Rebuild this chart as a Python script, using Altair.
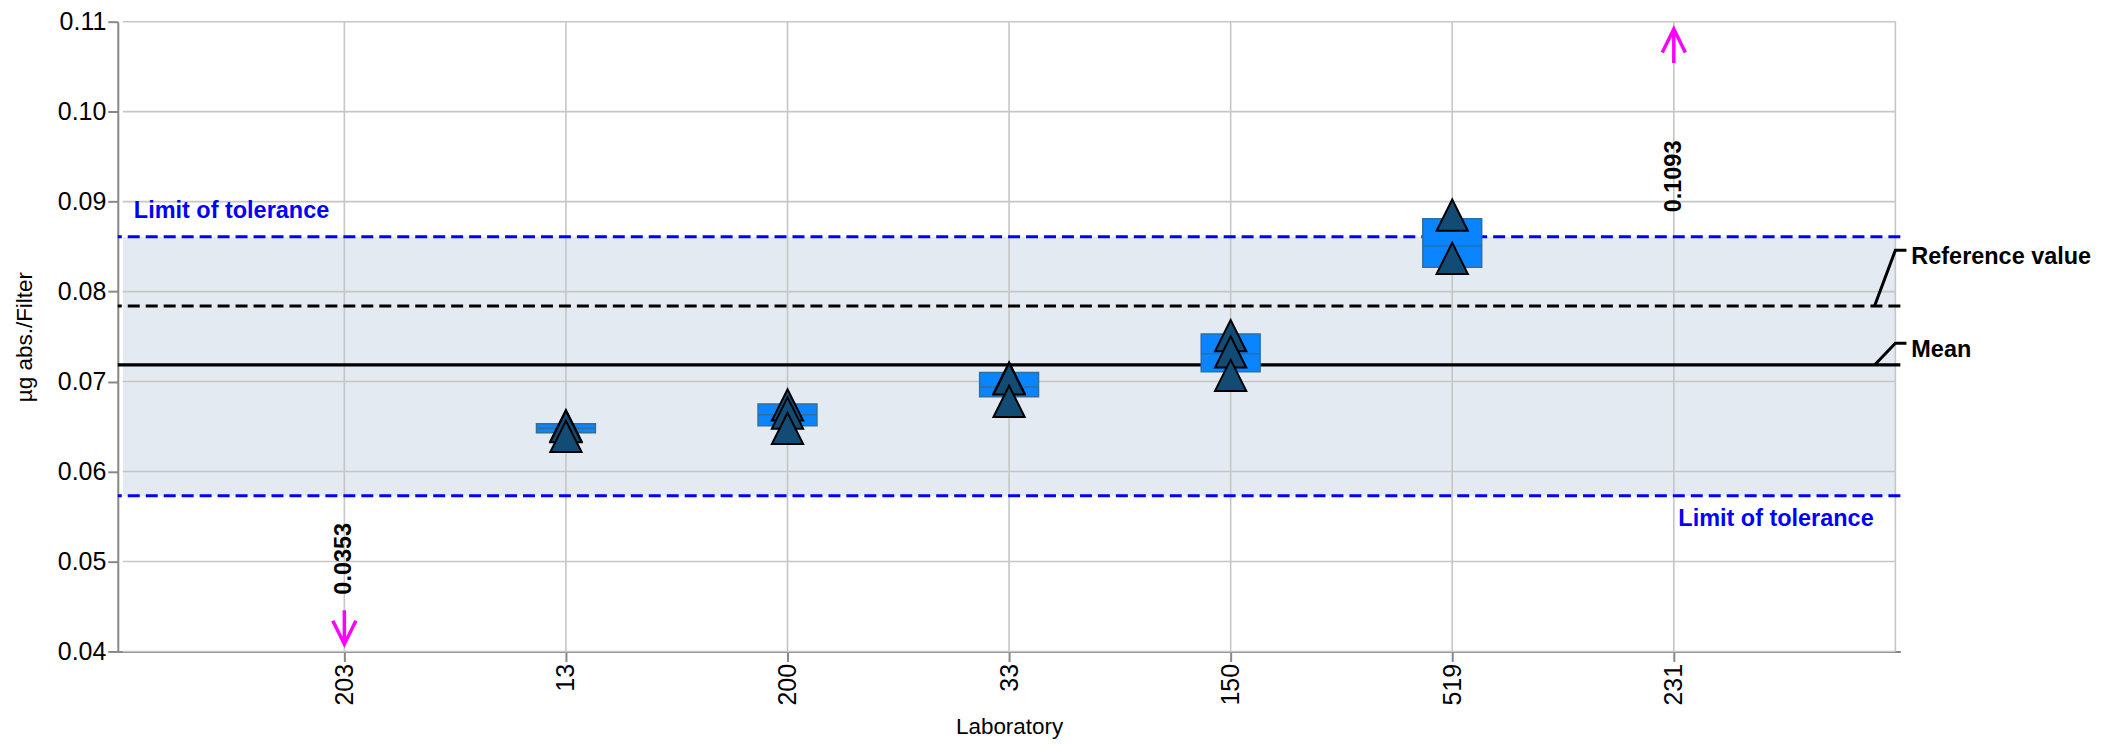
import altair as alt
import pandas as pd

# ---------------- data ----------------
labs = ["203", "13", "200", "33", "150", "519", "231"]

single_lab = ["13", "13", "13", "200", "200", "200", "33", "33", "33",
              "150", "150", "150", "519", "519"]
single_val = [0.0651, 0.0650, 0.0639, 0.0674, 0.0665, 0.0648,
              0.0704, 0.0703, 0.0678, 0.0751, 0.0733, 0.0707,
              0.0885, 0.0837]

box_lab = ["13", "200", "33", "150", "519"]
box_low = [0.0643, 0.0651, 0.0683, 0.0711, 0.0827]
box_high = [0.0653, 0.0675, 0.0710, 0.0753, 0.0881]
box_mid = [0.0648, 0.0663, 0.0694, 0.0731, 0.0851]

out_lab = ["203", "231"]
out_val = [0.0353, 0.1093]

ref_value = 0.0784
mean_value = 0.07185
tol_low = 0.0573
tol_high = 0.0861

y_ticks = [0.04, 0.05, 0.06, 0.07, 0.08, 0.09, 0.10, 0.11]
y_min, y_max = 0.04, 0.11

# ---------------- helpers ----------------
pos = {lab: i + 1 for i, lab in enumerate(labs)}
x_max = len(labs) + 1
FONT = "Liberation Sans"
ANN = 23.5

XS = alt.Scale(domain=[0, x_max], nice=False, zero=False)
YS = alt.Scale(domain=[y_min, y_max], nice=False, zero=False)
lab_js = "[" + ",".join("'" + l + "'" for l in labs) + "]"
xaxis = alt.Axis(values=list(range(1, len(labs) + 1)),
                 labelExpr=lab_js + "[datum.value - 1]",
                 title="Laboratory", labelAngle=270, labelPadding=2,
                 titlePadding=10, labelFlush=False, labelOverlap=False)
yaxis = alt.Axis(values=y_ticks, format=".2f", title="µg abs./Filter",
                 labelPadding=2, titlePadding=21, labelFlush=False,
                 labelOverlap=False)


def X(f):
    return alt.X(f, type="quantitative", scale=XS, axis=xaxis)


def Y(f):
    return alt.Y(f, type="quantitative", scale=YS, axis=yaxis)


# ---------------- tables ----------------
band_df = pd.DataFrame({"x0": [0], "x1": [x_max], "lo": [tol_low], "hi": [tol_high]})
hgrid_df = pd.DataFrame({"y": y_ticks, "x0": 0, "x1": x_max})
vgrid_df = pd.DataFrame({"x": list(range(1, len(labs) + 1)) + [x_max]})
single_df = pd.DataFrame({"pos": [pos[l] for l in single_lab], "val": single_val})
box_df = pd.DataFrame({"pos": [pos[l] for l in box_lab], "lo": box_low,
                       "hi": box_high, "mid": box_mid})

arrow_off = 0.0027
out_df = pd.DataFrame({
    "pos": [pos[l] for l in out_lab],
    "val": out_val,
    "label": [f"{v:.4f}" for v in out_val],
})
out_df["dir"] = ["down" if v < y_min else "up" for v in out_val]
out_df["ay"] = [y_min + arrow_off if v < y_min else y_max - arrow_off for v in out_val]
label_y = {"down": 0.0503, "up": 0.0928}
out_df["ty"] = [label_y[d] for d in out_df["dir"]]

# leader lines for right-hand labels
elbow = {"Reference value": ref_value + 0.0062, "Mean": mean_value + 0.0024}
base = {"Reference value": ref_value, "Mean": mean_value}
lead_rows = []
for name in ["Reference value", "Mean"]:
    lead_rows += [
        {"g": name, "o": 0, "x": x_max - 0.094, "y": base[name]},
        {"g": name, "o": 1, "x": x_max, "y": elbow[name]},
        {"g": name, "o": 2, "x": x_max + 0.05, "y": elbow[name]},
    ]
lead_df = pd.DataFrame(lead_rows)
rlab_df = pd.DataFrame({"x": [x_max + 0.072] * 2, "y": [elbow["Reference value"], elbow["Mean"]],
                        "t": ["Reference value", "Mean"]})

tol_txt_df = pd.DataFrame({"x": [0.05], "y": [tol_high], "t": ["Limit of tolerance"]})
tol_txt_df2 = pd.DataFrame({"x": [x_max - 0.098], "y": [tol_low], "t": ["Limit of tolerance"]})

# ---------------- layers ----------------
band = alt.Chart(band_df).mark_rect(color="#e4eaf1").encode(
    x=X("x0"), x2="x1", y=Y("lo"), y2="hi")
hgrid = alt.Chart(hgrid_df).mark_rule(color="#c6c6c6", strokeWidth=1.6).encode(
    x=X("x0"), x2="x1", y=Y("y"))
vgrid = alt.Chart(vgrid_df).mark_rule(color="#c6c6c6", strokeWidth=1.6).encode(x=X("x"))

tol_lines = alt.Chart(pd.DataFrame({"y": [tol_low, tol_high]})).mark_rule(
    color="#0000ff", strokeWidth=3, strokeDash=[12, 6]).encode(y=Y("y"))
ref_line = alt.Chart(pd.DataFrame({"y": [ref_value]})).mark_rule(
    color="black", strokeWidth=3, strokeDash=[12, 6]).encode(y=Y("y"))
mean_line = alt.Chart(pd.DataFrame({"y": [mean_value]})).mark_rule(
    color="black", strokeWidth=3.2).encode(y=Y("y"))

boxes = alt.Chart(box_df).mark_bar(width=59, color="#0a84ff", stroke="#2e6f9e",
                                   strokeWidth=1.5, opacity=1).encode(
    x=X("pos"), y=Y("lo"), y2="hi")
medians = alt.Chart(box_df).mark_tick(orient="horizontal", size=59, thickness=1.5,
                                      color="#2e6f9e", opacity=1).encode(
    x=X("pos"), y=Y("mid"))

TRI = "M0,-1L-1,1L1,1Z"
tris = alt.Chart(single_df).mark_point(shape=TRI, size=980, filled=True, fill="#124c75",
                                       fillOpacity=1, stroke="black", strokeWidth=2,
                                       opacity=1).encode(x=X("pos"), y=Y("val"))

UP = "M0,1L0,-1M-0.68,0.38L0,-1L0.68,0.38"
DOWN = "M0,-1L0,1M-0.68,-0.38L0,1L0.68,-0.38"
arrow_up = alt.Chart(out_df).transform_filter(alt.datum.dir == "up").mark_point(
    shape=UP, size=1156, filled=False, stroke="#ff00ff", strokeWidth=3.5, opacity=1).encode(
    x=X("pos"), y=Y("ay"))
arrow_down = alt.Chart(out_df).transform_filter(alt.datum.dir == "down").mark_point(
    shape=DOWN, size=1156, filled=False, stroke="#ff00ff", strokeWidth=3.5, opacity=1).encode(
    x=X("pos"), y=Y("ay"))
out_txt = alt.Chart(out_df).mark_text(angle=270, font=FONT, fontSize=ANN, fontWeight="bold",
                                      color="black", align="center", baseline="middle").encode(
    x=X("pos"), y=Y("ty"), text="label:N")

tol_txt = alt.Chart(tol_txt_df).mark_text(font=FONT, fontSize=ANN, fontWeight="bold",
                                          color="#0000ff", align="left", baseline="middle",
                                          dy=-26).encode(x=X("x"), y=Y("y"), text="t:N")
tol_txt2 = alt.Chart(tol_txt_df2).mark_text(font=FONT, fontSize=ANN, fontWeight="bold",
                                            color="#0000ff", align="right", baseline="middle",
                                            dy=23).encode(x=X("x"), y=Y("y"), text="t:N")

leaders = alt.Chart(lead_df).mark_line(color="black", strokeWidth=3, clip=False).encode(
    x=X("x"), y=Y("y"), detail="g:N", order="o:Q")
rlabels = alt.Chart(rlab_df).mark_text(font=FONT, fontSize=ANN, fontWeight="bold",
                                       color="black", align="left", baseline="middle",
                                       dy=7).encode(x=X("x"), y=Y("y"), text="t:N")

chart = alt.layer(
    band, hgrid, vgrid, tol_lines, ref_line, mean_line, boxes, medians, tris,
    arrow_up, arrow_down, out_txt, tol_txt, tol_txt2, leaders, rlabels
).properties(
    width=1786, height=631,
    autosize=alt.AutoSizeParams(type="none"),
    padding={"left": 110, "top": 13, "right": 195, "bottom": 92},
).configure_view(stroke=None).configure_axis(
    grid=False, domainColor="#888888", domainWidth=2, tickColor="#888888", tickWidth=2,
    tickSize=10, labelFont=FONT, labelFontSize=25, labelColor="black",
    titleFont=FONT, titleFontSize=22.5, titleFontWeight="normal", titleColor="black",
    zindex=1,
)

chart.save("out.html", embed_options={"renderer": "svg", "actions": False})
